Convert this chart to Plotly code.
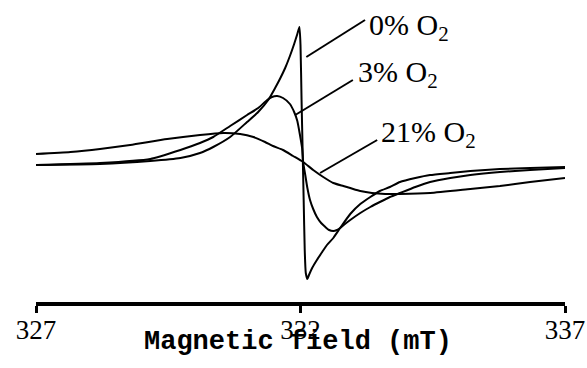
import plotly.graph_objects as go

# Magnetic field (mT)
field_0 = [327.00, 328.21, 329.16, 329.73, 330.10, 330.35, 330.67, 330.99, 331.20, 331.39,
           331.52, 331.62, 331.71, 331.80, 331.88, 331.94, 331.98, 332.00, 332.02, 332.04,
           332.06, 332.08, 332.10, 332.13, 332.16, 332.22, 332.31, 332.41, 332.50, 332.62,
           332.75, 332.94, 333.13, 333.32, 333.50, 333.69, 333.88, 334.17, 334.45, 334.83,
           335.21, 335.77, 336.34, 337.00]
signal_0 = [-2, -1, 2, 5, 10, 16, 26, 41, 51, 63,
            75, 85, 95, 107, 119, 129, 136, 118, 63, 13,
            -37, -87, -110, -116, -112, -105, -97, -89, -82, -75,
            -65, -51, -41, -34, -28, -24, -19, -15, -12, -10,
            -8, -6, -5, -4]

field_3 = [327.00, 328.21, 329.16, 329.73, 330.10, 330.35, 330.67, 330.99, 331.20, 331.37,
           331.46, 331.56, 331.67, 331.80, 331.88, 331.94, 331.99, 332.03, 332.05, 332.09,
           332.13, 332.18, 332.24, 332.31, 332.39, 332.47, 332.54, 332.62, 332.69, 332.75,
           332.84, 332.94, 333.13, 333.32, 333.50, 333.69, 333.88, 334.17, 334.45, 334.83,
           335.21, 335.77, 336.34, 337.00]
signal_3 = [-2, 0, 4, 13, 20, 26, 37, 48, 55, 63,
            66, 67, 65, 59, 51, 42, 28, 15, 1, -12,
            -25, -37, -46, -54, -60, -64, -67, -68, -67, -65,
            -61, -57, -50, -44, -39, -34, -30, -24, -19, -15,
            -12, -9, -7, -5]

field_21 = [327.00, 327.65, 328.21, 328.78, 329.48, 330.10, 330.54, 330.86, 331.11, 331.33,
            331.48, 331.67, 331.86, 332.05, 332.24, 332.43, 332.62, 332.81, 332.94, 333.13,
            333.35, 333.60, 333.88, 334.45, 335.21, 335.77, 336.34, 337.00]
signal_21 = [9, 11, 14, 18, 24, 28, 30, 29, 26, 21,
             17, 13, 7, 1, -7, -14, -20, -23, -25, -28,
             -30, -31, -31, -30, -26, -23, -19, -15]

tick_vals = [327, 332, 337]
tick_text = ["327", "332", "337"]
x_title = "Magnetic field (mT)"

labels = ["0% O<sub>2</sub>", "3% O<sub>2</sub>", "21% O<sub>2</sub>"]
label_x = [333.28, 333.07, 333.50]
label_y = [136, 89, 29]
leader_x0 = [332.11, 331.90, 332.37]
leader_y0 = [106, 48, -10]
leader_x1 = [333.22, 332.99, 333.45]
leader_y1 = [143, 83, 23]

fig = go.Figure()
for fx, sy in [(field_0, signal_0), (field_3, signal_3), (field_21, signal_21)]:
    fig.add_trace(go.Scatter(x=fx, y=sy, mode="lines",
                             line=dict(color="black", width=2, shape="spline", smoothing=0.5),
                             showlegend=False, hoverinfo="skip"))

for i in range(3):
    fig.add_shape(type="line", x0=leader_x0[i], y0=leader_y0[i], x1=leader_x1[i], y1=leader_y1[i],
                  xref="x", yref="y", line=dict(color="black", width=2))
    fig.add_annotation(x=label_x[i], y=label_y[i], text=labels[i], showarrow=False,
                       xanchor="left", yanchor="middle", borderpad=0,
                       font=dict(family="Liberation Serif, Times New Roman, serif", size=30, color="black"))

fig.add_annotation(x=331.95, xref="x", y=-0.133, yref="paper", text=x_title, showarrow=False,
                   xanchor="center", yanchor="middle", borderpad=0,
                   font=dict(family="Liberation Mono, Courier New, monospace", size=27,
                             color="black", weight="bold"))

fig.update_layout(
    width=587, height=368,
    margin=dict(l=35.7, r=22, t=0, b=66),
    paper_bgcolor="white", plot_bgcolor="white",
    xaxis=dict(range=[327, 337], tickvals=tick_vals, ticktext=tick_text,
               showline=True, linewidth=4, linecolor="black", mirror=False,
               ticks="outside", ticklen=7, tickwidth=3, tickcolor="black",
               ticklabelstandoff=-6,
               showgrid=False, zeroline=False, automargin=False,
               tickfont=dict(family="Liberation Serif, Times New Roman, serif", size=27, color="black")),
    yaxis=dict(range=[-139, 163], visible=False, showgrid=False, zeroline=False),
)

fig.write_html("out.html")
